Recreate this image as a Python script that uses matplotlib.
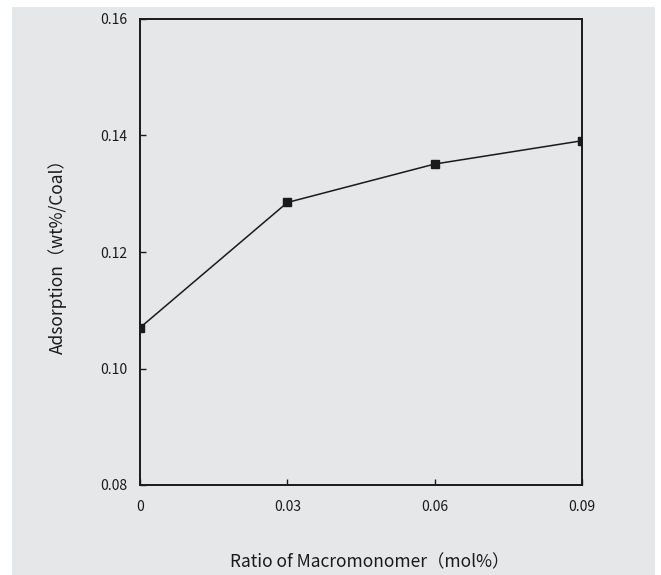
import matplotlib
matplotlib.use("Agg")
import matplotlib.pyplot as plt
from matplotlib.patches import Rectangle

# datos
ratio = [0, 0.03, 0.06, 0.09]
adsorcion = [0.1070, 0.1285, 0.1351, 0.1391]
xticks = [0, 0.03, 0.06, 0.09]
xtick_labels = ["0", "0.03", "0.06", "0.09"]
yticks = [0.08, 0.10, 0.12, 0.14, 0.16]
ytick_labels = ["0.08", "0.10", "0.12", "0.14", "0.16"]

gris = "#e6e7e9"
plt.rcParams['font.family'] = ['Noto Sans CJK JP', 'DejaVu Sans']

fig = plt.figure(figsize=(6.61, 5.75), dpi=100, facecolor="white")
# fondo gris del recuadro
fondo = Rectangle((12 / 661, 0), (655 - 12) / 661, (575 - 7) / 575,
                  transform=fig.transFigure, facecolor=gris,
                  edgecolor="none", zorder=-10)
fig.add_artist(fondo)

ax = fig.add_axes([140 / 661, 90 / 575, 442 / 661, 466 / 575])
ax.set_zorder(5)
ax.set_facecolor(gris)
ax.plot(ratio, adsorcion, color="#1a1a1a", linewidth=1.1, marker="s",
        markersize=5.5, markerfacecolor="#1a1a1a", markeredgecolor="#1a1a1a")

ax.set_xlim(0, 0.09)
ax.set_ylim(0.08, 0.16)
ax.set_xticks(xticks)
ax.set_xticklabels(xtick_labels)
ax.set_yticks(yticks)
ax.set_yticklabels(ytick_labels)
ax.tick_params(direction="in", length=4, width=1, labelsize=10, colors="#1a1a1a")
ax.tick_params(axis="x", pad=11)
ax.tick_params(axis="y", pad=9)
for s in ax.spines.values():
    s.set_linewidth(1.4)
    s.set_color("#1a1a1a")

ax.set_xlabel("Ratio of Macromonomer（mol%）", fontsize=12.5, color="#1a1a1a")
ax.set_ylabel("Adsorption（wt%/Coal）", fontsize=12.5, color="#1a1a1a")
ax.xaxis.set_label_coords(0.52, -0.147)
ax.yaxis.set_label_coords(-0.166, 0.5)

fig.savefig("out.png", dpi=100, facecolor="white")
